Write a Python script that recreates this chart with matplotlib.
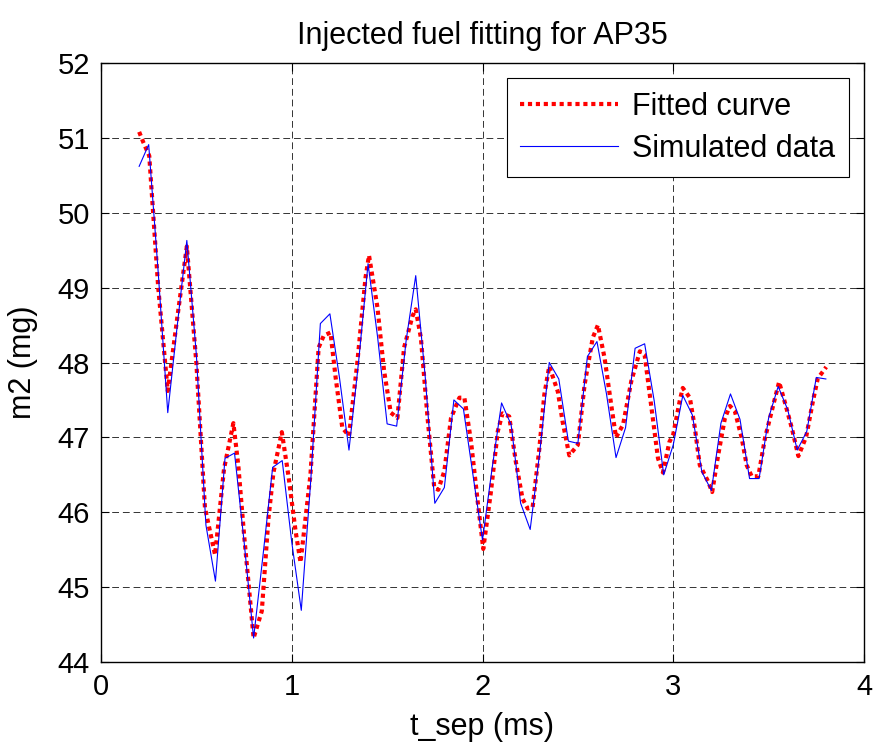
import numpy as np
from matplotlib import pyplot as plt

plt.rcParams['font.family'] = ['Liberation Sans', 'DejaVu Sans']

# simulated data, sampled every 0.05 ms
sim_t = np.linspace(0.2, 3.8, 73)
sim_m = [50.62, 50.91, 49.20, 47.33, 48.50, 49.63, 48.10, 45.83, 45.08, 46.72,
         46.79, 45.61, 44.32, 45.44, 46.60, 46.69, 45.60, 44.69, 46.44, 48.52,
         48.65, 47.80, 46.83, 48.00, 49.32, 48.34, 47.18, 47.15, 48.30, 49.16,
         47.80, 46.12, 46.33, 47.50, 47.38, 46.50, 45.63, 46.58, 47.46, 47.17,
         46.12, 45.77, 46.80, 48.00, 47.78, 46.95, 46.92, 48.08, 48.28, 47.58,
         46.73, 47.13, 48.19, 48.25, 47.49, 46.50, 46.90, 47.56, 47.30, 46.54,
         46.29, 47.19, 47.58, 47.24, 46.45, 46.45, 47.26, 47.68, 47.37, 46.83,
         47.08, 47.80, 47.78]

# fitted curve
fit_t = [0.200, 0.222, 0.253, 0.300, 0.350, 0.400, 0.450, 0.500, 0.545, 0.598,
         0.645, 0.694, 0.720, 0.750, 0.800, 0.843, 0.878, 0.904, 0.948, 0.983,
         1.020, 1.046, 1.098, 1.141, 1.168, 1.203, 1.230, 1.265, 1.300, 1.343,
         1.387, 1.405, 1.449, 1.484, 1.519, 1.554, 1.589, 1.633, 1.650, 1.677,
         1.712, 1.747, 1.768, 1.800, 1.835, 1.879, 1.905, 1.940, 1.975, 2.004,
         2.044, 2.080, 2.105, 2.140, 2.175, 2.210, 2.237, 2.263, 2.298, 2.324,
         2.350, 2.395, 2.420, 2.455, 2.500, 2.535, 2.578, 2.605, 2.640, 2.675,
         2.700, 2.737, 2.780, 2.825, 2.850, 2.886, 2.920, 2.946, 2.980, 3.000,
         3.035, 3.050, 3.087, 3.113, 3.139, 3.183, 3.204, 3.236, 3.271, 3.297,
         3.323, 3.359, 3.385, 3.411, 3.446, 3.481, 3.525, 3.555, 3.586, 3.621,
         3.656, 3.697, 3.732, 3.758, 3.779, 3.802]
fit_m = [51.08, 50.94, 50.76, 49.00, 47.62, 48.60, 49.55, 47.99, 46.06, 45.43,
         46.58, 47.19, 46.62, 45.70, 44.32, 44.68, 45.92, 46.53, 47.07, 46.48,
         45.75, 45.33, 46.50, 48.20, 48.36, 48.40, 47.80, 47.13, 47.02, 47.98,
         49.14, 49.43, 48.74, 47.89, 47.33, 47.26, 48.20, 48.62, 48.71, 48.33,
         47.26, 46.33, 46.30, 46.55, 47.26, 47.53, 47.53, 46.94, 46.14, 45.51,
         46.27, 47.08, 47.32, 47.28, 46.67, 46.18, 46.05, 46.07, 46.85, 47.57,
         47.95, 47.61, 47.21, 46.76, 46.90, 47.70, 48.33, 48.50, 48.06, 47.43,
         47.00, 47.17, 47.75, 48.15, 48.10, 47.39, 46.72, 46.53, 46.94, 47.04,
         47.50, 47.66, 47.53, 47.13, 46.63, 46.41, 46.27, 46.77, 47.26, 47.42,
         47.35, 46.99, 46.63, 46.48, 46.48, 46.99, 47.44, 47.74, 47.46, 47.13,
         46.75, 47.01, 47.48, 47.79, 47.86, 47.94]

fig = plt.figure(figsize=(8.76, 7.46), dpi=100)
ax = fig.add_axes([101/876, 1-662/746, 763/876, 599/746])

ax.plot(fit_t, fit_m, color='red', lw=3, linestyle=(0, (1, 0.9)),
        dash_capstyle='butt', label='Fitted curve')
ax.plot(sim_t, sim_m, color='blue', lw=0.8, label='Simulated data')

ax.set_xlim(0, 4)
ax.set_ylim(44, 52)
ax.set_xticks([0, 1, 2, 3, 4])
ax.set_yticks(range(44, 53))
ax.grid(True, color='black', lw=0.7, linestyle=(0, (7, 4)), alpha=0.8)
ax.tick_params(direction='in', length=6, width=0.8, labelsize=21,
               top=True, right=True, pad=8)
for s in ax.spines.values():
    s.set_linewidth(1.0)

ax.set_title('Injected fuel fitting for AP35', fontsize=22, pad=14)
ax.set_xlabel('t_sep (ms)', fontsize=22, labelpad=8)
ax.set_ylabel('m2 (mg)', fontsize=22, labelpad=14)

leg = ax.legend(loc='upper right', fontsize=22, fancybox=False,
                framealpha=1, edgecolor='black', borderaxespad=0.5,
                handlelength=3.2, handletextpad=0.45, borderpad=0.45,
                labelspacing=0.38)
leg.get_frame().set_linewidth(0.8)

fig.savefig('out.png', dpi=100)
